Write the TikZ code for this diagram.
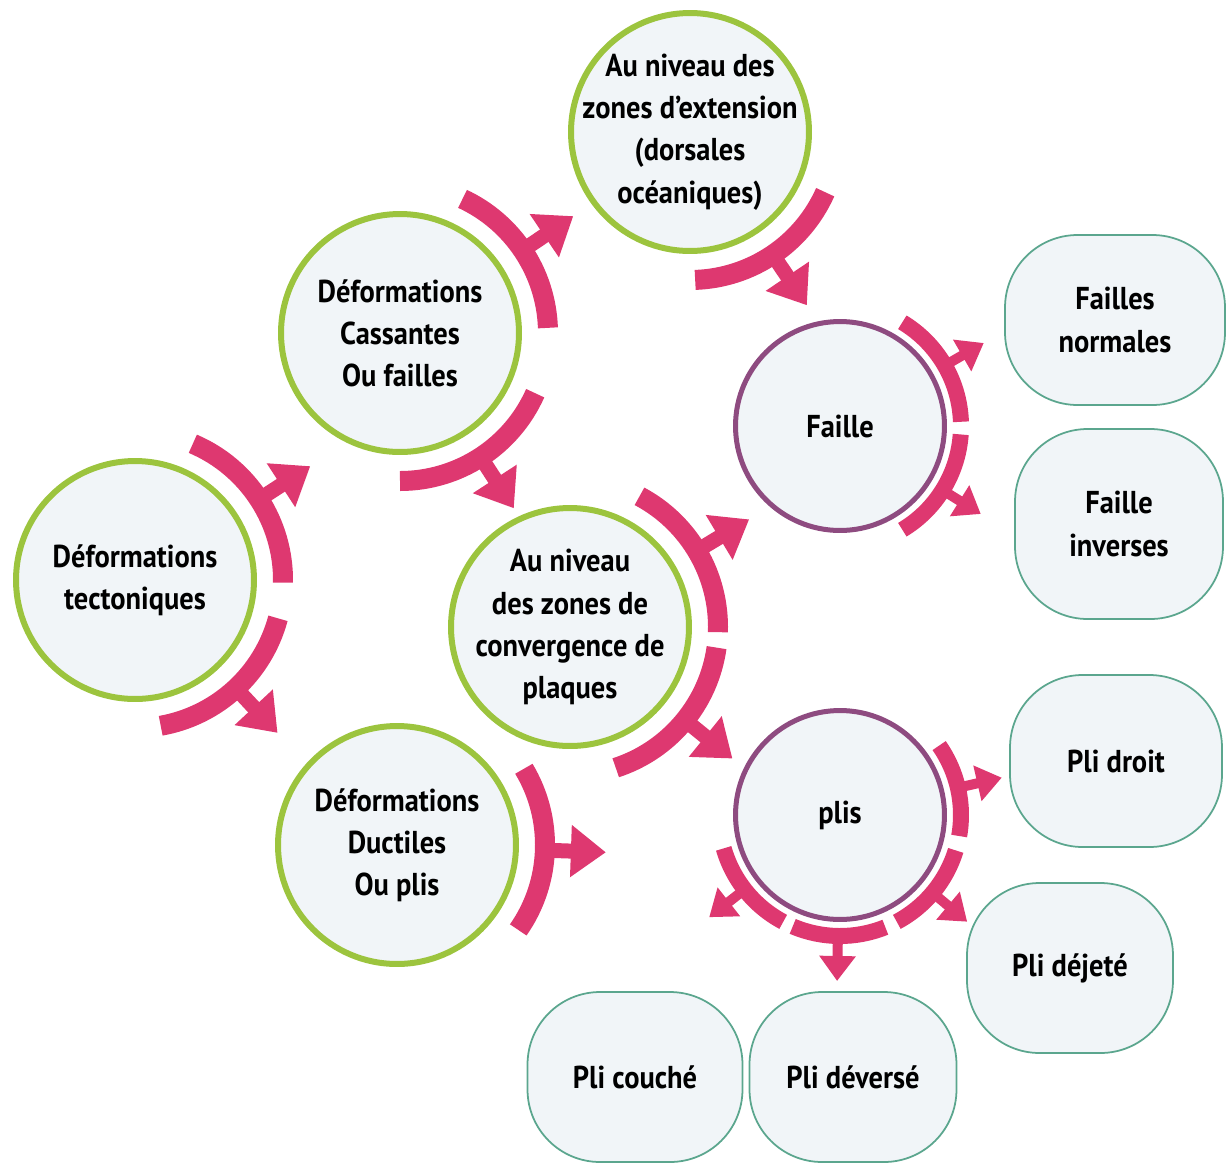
\documentclass[tikz,border=0pt]{standalone}
\usepackage{fontspec}
\usepackage{tikz}
\usetikzlibrary{arrows.meta}
\newfontfamily\lblfont{PT Sans}[FakeStretch=0.9]
\definecolor{ringgreen}{HTML}{9CC43E}
\definecolor{ringpurple}{HTML}{8E4B80}
\definecolor{leafteal}{HTML}{5BA68E}
\definecolor{ballfill}{HTML}{F1F5F8}
\definecolor{arcpink}{HTML}{DE3870}
\newcommand{\lbl}{\lblfont\bfseries\fontsize{18}{24}\selectfont}
% ---- arc with outward arrow round a big ball: #1 node, #2 start, #3 end, #4 arrow angle
\newcommand{\bigturn}[4]{%
  \draw[arcpink, line width=0.4cm] ([shift={(#2:148)}]#1.center) arc[start angle=#2, end angle=#3, radius=148];
  \draw[arcpink, line width=0.3cm, -{Triangle[width=1.0cm, length=0.7cm]}]
    ([shift={(#4:150)}]#1.center) -- ([shift={(#4:209)}]#1.center);}
% ---- same round a small ball
\newcommand{\smallturn}[4]{%
  \draw[arcpink, line width=0.32cm] ([shift={(#2:121)}]#1.center) arc[start angle=#2, end angle=#3, radius=121];
  \draw[arcpink, line width=0.2cm, -{Triangle[width=0.7cm, length=0.5cm]}]
    ([shift={(#4:123)}]#1.center) -- ([shift={(#4:166)}]#1.center);}

\begin{document}
\begin{tikzpicture}[x=0.02cm, y=0.02cm,
  greenball/.style={circle, draw=ringgreen, line width=0.12cm, fill=ballfill, minimum size=4.76cm, inner sep=0pt},
  purpleball/.style={circle, draw=ringpurple, line width=0.1cm, fill=ballfill, minimum size=4.18cm, inner sep=0pt},
  lbltext/.style={align=center, font=\lbl, inner sep=0pt},
  leaf/.style={rectangle, rounded corners=1.45cm, draw=leafteal, line width=1pt, fill=ballfill, align=center, font=\lbl, inner sep=0pt}]
\useasboundingbox (0,0) rectangle (1227,-1164);
% ---- big balls
\node[greenball, label={[lbltext]center:{Déformations\\tectoniques}}] (tect) at (135,-580) {};
\node[greenball, label={[lbltext]center:{Déformations\\Cassantes\\Ou failles}}] (cass) at (400,-333) {};
\node[greenball, label={[lbltext]center:{Au niveau des\\zones d’extension\\(dorsales\\océaniques)}}] (ext) at (690,-132) {};
\node[greenball, label={[lbltext]center:{Au niveau\\des zones de\\convergence de\\plaques}}] (conv) at (570,-627) {};
\node[greenball, label={[lbltext]center:{Déformations\\Ductiles\\Ou plis}}] (duct) at (397,-845) {};
% ---- small balls
\node[purpleball, label={[lbltext]center:Faille}] (faille) at (840,-426) {};
\node[purpleball, label={[lbltext]center:plis}] (plis) at (840,-815) {};
% ---- leaves
\node[leaf, minimum width=4.4cm, minimum height=3.4cm] (fnorm) at (1115,-320) {Failles\\normales};
\node[leaf, minimum width=4.16cm, minimum height=3.8cm] (finv) at (1119,-524) {Faille\\inverses};
\node[leaf, minimum width=4.24cm, minimum height=3.44cm] (pdroit) at (1116,-761) {Pli droit};
\node[leaf, minimum width=4.12cm, minimum height=3.4cm] (pdejete) at (1070,-968) {Pli déjeté};
\node[leaf, minimum width=4.3cm, minimum height=3.4cm] (pcouche) at (635,-1077) {Pli couché};
\node[leaf, minimum width=4.14cm, minimum height=3.4cm] (pdeverse) at (853,-1077) {Pli déversé};
% ---- turning arrows
\bigturn{tect}{-1}{67}{33}
\bigturn{tect}{-15}{-80}{-47}
\bigturn{cass}{2}{65}{34}
\bigturn{cass}{-24}{-90}{-57}
\bigturn{ext}{-24}{-88}{-56}
\bigturn{conv}{-2}{62}{31}
\bigturn{conv}{-8}{-72}{-39}
\bigturn{duct}{-35}{31}{-2}
\smallturn{faille}{2}{59}{30}
\smallturn{faille}{-4}{-59}{-32}
\smallturn{plis}{-10}{35}{13}
\smallturn{plis}{-17}{-62}{-40}
\smallturn{plis}{-68}{-113}{-91}
\smallturn{plis}{-118}{-164}{-142}
\end{tikzpicture}
\end{document}
